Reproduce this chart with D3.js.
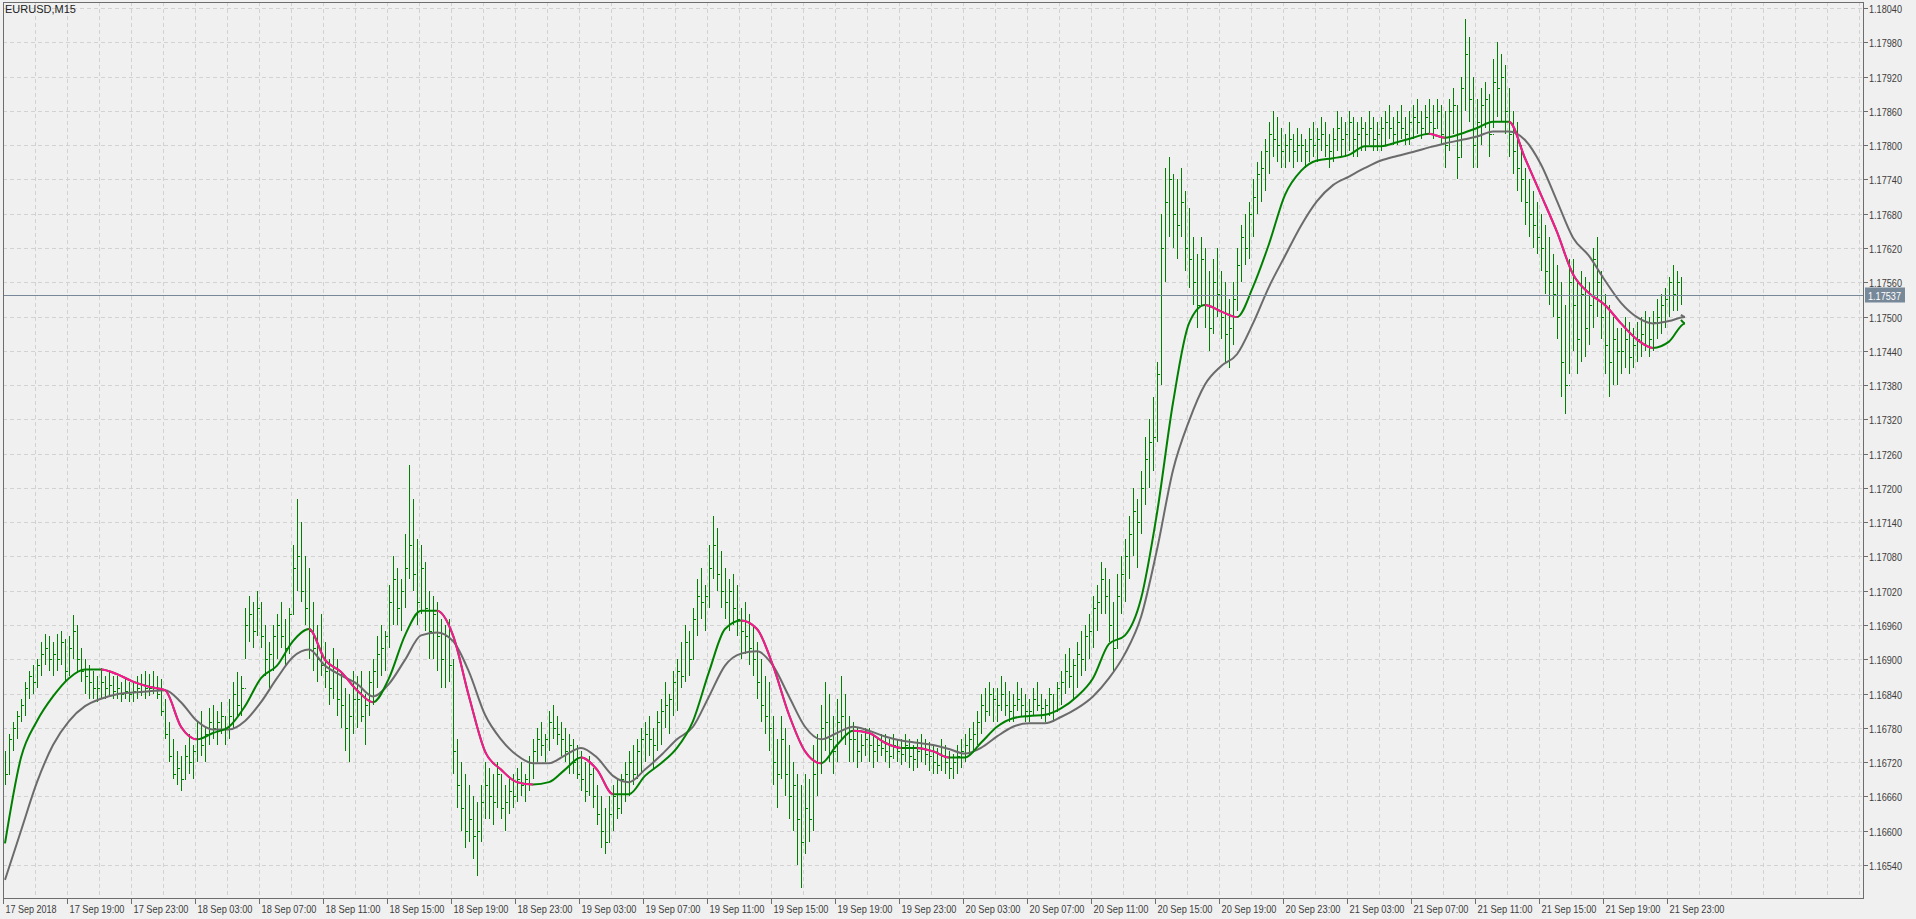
<!DOCTYPE html>
<html>
<head>
<meta charset="utf-8">
<script src="https://cdn.jsdelivr.net/npm/d3@7"></script>
<style>
  html, body { margin: 0; padding: 0; background: #f0f0f0; overflow: hidden; }
  svg text { font-family: "Liberation Sans", "DejaVu Sans", sans-serif; }
</style>
</head>
<body>
<svg id="chart" width="1916" height="919"></svg>
<script>
// EURUSD M15, 17 Sep 2018 15:00 .. 21 Sep 23:45, prices in points above 1.15000
const base_price = 1.15;
const start_time = Date.UTC(2018, 8, 17, 15, 0);
const last_price = 1.17537;

// [high, low, close] per 15 min bar, grouped one hour per line
const bars_hlc = [
  [1740,1680,1700],[1770,1700,1760],[1790,1740,1780],[1810,1760,1800],
  [1830,1790,1820],[1860,1800,1850],[1880,1830,1870],[1890,1840,1860],
  [1900,1850,1890],[1930,1870,1910],[1945,1890,1920],[1940,1880,1900],
  [1930,1870,1910],[1945,1880,1900],[1950,1890,1930],[1935,1860,1880],
  [1940,1870,1920],[1978,1900,1950],[1960,1880,1900],[1920,1860,1880],
  [1900,1840,1870],[1890,1830,1860],[1880,1830,1850],[1870,1825,1850],
  [1885,1830,1860],[1870,1830,1850],[1880,1835,1855],[1870,1830,1845],
  [1870,1830,1850],[1860,1825,1840],[1865,1830,1845],[1860,1825,1840],
  [1860,1825,1845],[1870,1830,1850],[1875,1835,1855],[1880,1830,1850],
  [1875,1835,1850],[1880,1840,1850],[1870,1830,1840],[1865,1800,1810],
  [1830,1760,1770],[1790,1720,1730],[1760,1690,1700],[1740,1680,1710],
  [1730,1670,1690],[1750,1690,1730],[1770,1700,1720],[1750,1690,1740],
  [1790,1720,1760],[1810,1730,1750],[1780,1720,1770],[1815,1750,1790],
  [1820,1760,1780],[1810,1750,1790],[1825,1770,1800],[1800,1750,1780],
  [1830,1760,1800],[1860,1780,1840],[1878,1800,1820],[1870,1800,1850],
  [1990,1900,1960],[2010,1930,1980],[2000,1920,1950],[2020,1940,1990],
  [2000,1920,1940],[1960,1870,1900],[1930,1850,1910],[1960,1880,1940],
  [1980,1900,1960],[2000,1920,1940],[1970,1890,1920],[1990,1910,1980],
  [2100,1980,2060],[2180,2020,2080],[2140,2000,2020],[2080,1960,1990],
  [2060,1900,1950],[2000,1880,1920],[1960,1860,1900],[1980,1870,1890],
  [1930,1850,1880],[1900,1820,1850],[1920,1830,1880],[1900,1800,1830],
  [1880,1780,1820],[1850,1740,1780],[1840,1720,1800],[1880,1770,1830],
  [1870,1780,1830],[1880,1790,1800],[1840,1750,1820],[1880,1800,1860],
  [1900,1820,1880],[1940,1850,1910],[1960,1870,1920],[1950,1880,1940],
  [2030,1920,2000],[2080,1960,2040],[2060,1960,1990],[2040,1950,2020],
  [2120,1990,2060],[2240,2040,2100],[2180,2020,2050],[2110,1960,2000],
  [2100,1980,2060],[2070,1950,1990],[2020,1900,1950],[2010,1900,1980],
  [2000,1880,1940],[1970,1850,1900],[1960,1850,1940],[1970,1860,1890],
  [1900,1700,1740],[1760,1640,1680],[1720,1600,1640],[1700,1570,1600],
  [1680,1580,1620],[1660,1550,1590],[1650,1520,1600],[1680,1580,1650],
  [1720,1620,1680],[1710,1620,1660],[1700,1610,1650],[1720,1640,1700],
  [1700,1620,1640],[1680,1600,1650],[1690,1630,1670],[1700,1640,1660],
  [1710,1650,1690],[1720,1660,1680],[1700,1650,1690],[1730,1670,1720],
  [1760,1690,1740],[1780,1720,1760],[1790,1730,1750],[1770,1720,1760],
  [1810,1740,1790],[1820,1760,1780],[1800,1750,1770],[1790,1730,1760],
  [1780,1720,1740],[1770,1700,1750],[1760,1700,1720],[1750,1690,1700],
  [1740,1670,1690],[1720,1650,1670],[1730,1660,1700],[1710,1640,1660],
  [1680,1610,1630],[1660,1570,1600],[1640,1560,1580],[1660,1580,1630],
  [1680,1600,1660],[1690,1620,1640],[1700,1630,1690],[1720,1650,1700],
  [1740,1660,1720],[1750,1680,1700],[1760,1690,1740],[1780,1700,1760],
  [1790,1720,1770],[1800,1730,1760],[1780,1710,1750],[1810,1740,1790],
  [1830,1750,1810],[1860,1780,1820],[1840,1770,1830],[1880,1800,1860],
  [1900,1810,1880],[1930,1850,1870],[1960,1860,1930],[1950,1870,1900],
  [1990,1900,1970],[2040,1940,2010],[2060,1970,2000],[2030,1950,2010],
  [2100,1990,2060],[2150,2040,2100],[2130,2020,2050],[2090,1990,2020],
  [2060,1970,2000],[2040,1950,2020],[2050,1960,1990],[2030,1940,1970],
  [1990,1900,1950],[2000,1910,1940],[1980,1890,1920],[1960,1870,1900],
  [1930,1830,1860],[1900,1790,1820],[1870,1770,1800],[1860,1740,1780],
  [1800,1680,1720],[1760,1640,1700],[1800,1690,1760],[1780,1660,1700],
  [1750,1620,1660],[1720,1600,1680],[1700,1540,1620],[1680,1500,1580],
  [1700,1560,1640],[1690,1580,1620],[1750,1600,1700],[1770,1660,1720],
  [1820,1700,1780],[1860,1740,1790],[1840,1720,1760],[1800,1700,1740],
  [1830,1720,1790],[1870,1760,1800],[1840,1750,1770],[1800,1720,1760],
  [1790,1720,1760],[1780,1710,1740],[1770,1720,1750],[1780,1730,1760],
  [1780,1720,1750],[1770,1710,1740],[1760,1720,1750],[1770,1730,1745],
  [1770,1720,1740],[1760,1710,1730],[1770,1725,1750],[1760,1720,1740],
  [1760,1715,1735],[1770,1720,1750],[1760,1710,1730],[1750,1705,1725],
  [1760,1710,1740],[1770,1720,1745],[1760,1715,1735],[1755,1705,1730],
  [1750,1700,1720],[1745,1700,1715],[1760,1705,1730],[1750,1700,1720],
  [1740,1690,1710],[1735,1690,1720],[1750,1700,1730],[1760,1710,1740],
  [1770,1720,1750],[1780,1730,1760],[1790,1740,1770],[1810,1750,1790],
  [1840,1770,1820],[1850,1790,1810],[1860,1800,1840],[1850,1790,1830],
  [1850,1790,1820],[1870,1810,1840],[1860,1800,1820],[1845,1790,1810],
  [1840,1790,1820],[1860,1810,1830],[1850,1800,1820],[1840,1790,1810],
  [1830,1790,1810],[1850,1800,1830],[1860,1810,1820],[1840,1795,1815],
  [1830,1790,1820],[1850,1800,1840],[1840,1790,1810],[1860,1810,1850],
  [1880,1820,1860],[1910,1840,1880],[1920,1850,1870],[1900,1830,1890],
  [1930,1850,1910],[1950,1870,1900],[1960,1880,1940],[1980,1900,1950],
  [2010,1920,1990],[2030,1950,2000],[2070,1980,2040],[2060,1980,2010],
  [2040,1930,1960],[2000,1880,1920],[2050,1920,2010],[2080,1980,2050],
  [2110,2000,2080],[2150,2040,2120],[2200,2080,2160],[2180,2060,2140],
  [2230,2120,2200],[2290,2170,2250],[2320,2200,2280],[2360,2230,2290],
  [2420,2280,2400],[2680,2380,2620],[2760,2560,2700],[2780,2640,2740],
  [2750,2620,2680],[2740,2600,2660],[2760,2640,2700],[2720,2580,2620],
  [2690,2550,2600],[2640,2520,2560],[2610,2480,2520],[2640,2520,2600],
  [2620,2480,2520],[2580,2440,2480],[2600,2470,2560],[2620,2500,2540],
  [2580,2460,2500],[2560,2420,2470],[2530,2410,2480],[2560,2450,2530],
  [2620,2510,2590],[2660,2560,2640],[2680,2590,2620],[2700,2600,2680],
  [2740,2640,2710],[2770,2680,2750],[2790,2700,2760],[2810,2720,2790],
  [2840,2750,2820],[2860,2780,2810],[2850,2770,2800],[2830,2760,2790],
  [2820,2760,2800],[2840,2770,2810],[2820,2760,2790],[2830,2770,2800],
  [2820,2770,2800],[2810,2760,2790],[2830,2770,2810],[2840,2780,2800],
  [2830,2770,2810],[2850,2790,2820],[2840,2780,2800],[2820,2760,2790],
  [2830,2770,2810],[2860,2790,2830],[2850,2780,2810],[2840,2780,2820],
  [2860,2790,2840],[2850,2780,2810],[2840,2780,2820],[2850,2790,2830],
  [2840,2790,2820],[2860,2800,2830],[2850,2790,2810],[2840,2790,2820],
  [2850,2790,2830],[2860,2800,2840],[2870,2810,2830],[2850,2800,2820],
  [2860,2800,2840],[2870,2810,2830],[2850,2800,2820],[2860,2800,2840],
  [2870,2810,2850],[2880,2820,2840],[2860,2810,2830],[2870,2820,2850],
  [2880,2820,2840],[2870,2810,2830],[2880,2830,2860],[2870,2800,2820],
  [2860,2760,2800],[2880,2790,2860],[2900,2820,2870],[2870,2740,2780],
  [2920,2780,2900],[3020,2860,2960],[2990,2840,2880],[2920,2760,2800],
  [2880,2760,2840],[2900,2800,2870],[2910,2830,2880],[2890,2780,2820],
  [2950,2830,2910],[2980,2850,2900],[2960,2840,2920],[2940,2820,2860],
  [2900,2780,2820],[2860,2750,2790],[2840,2720,2760],[2800,2700,2740],
  [2760,2660,2700],[2740,2640,2680],[2720,2620,2660],[2700,2610,2640],
  [2680,2580,2620],[2660,2540,2580],[2640,2520,2560],[2610,2500,2540],
  [2590,2460,2500],[2560,2360,2420],[2520,2330,2380],[2600,2400,2560],
  [2600,2440,2520],[2560,2400,2460],[2580,2420,2540],[2570,2430,2480],
  [2560,2450,2520],[2620,2480,2600],[2640,2500,2560],[2580,2460,2500],
  [2540,2400,2450],[2520,2360,2420],[2500,2380,2460],[2480,2380,2440],
  [2480,2400,2440],[2500,2410,2460],[2490,2400,2430],[2480,2410,2450],
  [2490,2420,2460],[2500,2430,2470],[2510,2440,2490],[2500,2430,2460],
  [2510,2440,2490],[2530,2460,2500],[2540,2470,2520],[2550,2480,2530],
  [2570,2500,2560],[2590,2510,2540],[2580,2510,2560],[2570,2520,2537]
];

// moving averages read at every full hour (last value = last bar)
const fast_ma = [
  1578,1728,1792,1835,1867,1882,1882,1874,1861,1852,1846,1782,1760,1771,1782,1818,
  1867,1889,1932,1953,1899,1878,1846,1825,1867,1942,1985,1985,1942,1835,1739,1707,
  1685,1681,1685,1707,1728,1707,1664,1664,1696,1718,1745,1792,1878,1953,1968,1953,
  1889,1803,1739,1718,1750,1775,1771,1754,1745,1745,1739,1728,1728,1754,1782,1797,
  1801,1803,1814,1835,1867,1927,1942,2006,2156,2349,2488,2520,2509,2499,2552,2627,
  2713,2755,2773,2777,2783,2798,2798,2805,2813,2820,2813,2820,2830,2841,2841,2777,
  2713,2648,2574,2541,2520,2488,2460,2445,2456,2488,2494
];
const slow_ma = [
  1514,1600,1685,1750,1792,1818,1831,1839,1842,1844,1846,1825,1792,1777,1777,1792,
  1825,1867,1904,1917,1889,1872,1857,1835,1857,1899,1942,1947,1932,1878,1803,1760,
  1732,1718,1718,1732,1745,1728,1696,1685,1707,1732,1760,1782,1835,1889,1910,1914,
  1889,1835,1782,1760,1771,1782,1775,1765,1758,1754,1750,1743,1735,1745,1765,1782,
  1788,1788,1799,1814,1835,1867,1910,1974,2092,2231,2317,2381,2413,2434,2488,2552,
  2606,2659,2702,2730,2745,2760,2773,2781,2788,2796,2803,2809,2815,2824,2824,2809,
  2766,2702,2638,2606,2563,2524,2499,2488,2492,2499,2503
];

const y_ticks = d3.range(0, 26).map(k => 1.16540 + k * 0.0006);

const W = 1916, H = 919;
const plot = { left: 3, right: 1863, top: 2, bottom: 898 };
const price = p => base_price + p / 100000;

const svg = d3.select("#chart");
const x = d3.scaleLinear().domain([0, 465]).range([plot.left + 2, plot.left + 2 + 465 * 4]);
const y = d3.scaleLinear().domain([1.16540, 1.18040]).range([865, 8]);

svg.append("rect").attr("width", W).attr("height", H).attr("fill", "#f0f0f0");
const defs = svg.append("defs");

// grid
const grid = svg.append("g").attr("stroke", "#d2d2d2").attr("stroke-dasharray", "4,3").attr("shape-rendering", "crispEdges");
y_ticks.forEach(t => {
  grid.append("line").attr("x1", plot.left).attr("x2", plot.right).attr("y1", Math.round(y(t)) + 0.5).attr("y2", Math.round(y(t)) + 0.5);
});
for (let i = 8; x(i) < plot.right; i += 8) {
  const gx = Math.round(x(i) - 2) + 0.5;
  grid.append("line").attr("x1", gx).attr("x2", gx).attr("y1", plot.top).attr("y2", plot.bottom);
}

// bars
const bars = svg.append("g").attr("stroke", "#008000").attr("stroke-width", 1).attr("shape-rendering", "crispEdges");
bars_hlc.forEach((b, i) => {
  const cx = Math.round(x(i)) + 0.5;
  const open = i === 0 ? b[2] : bars_hlc[i - 1][2];
  bars.append("line").attr("x1", cx).attr("x2", cx).attr("y1", Math.round(y(price(b[0])))).attr("y2", Math.round(y(price(b[1]))));
  bars.append("line").attr("x1", cx - 1).attr("x2", cx).attr("y1", Math.round(y(price(open))) + 0.5).attr("y2", Math.round(y(price(open))) + 0.5);
  bars.append("line").attr("x1", cx).attr("x2", cx + 2).attr("y1", Math.round(y(price(b[2]))) + 0.5).attr("y2", Math.round(y(price(b[2]))) + 0.5);
});

// moving averages
const last_bar = bars_hlc.length - 1;
const ma_x = (k, n) => (k === n - 1 ? last_bar : k * 4);
const line = d3.line().curve(d3.curveMonotoneX);

const slow_pts = slow_ma.map((v, k) => [x(ma_x(k, slow_ma.length)), y(price(v))]);
svg.append("path").attr("d", line(slow_pts))
  .attr("fill", "none").attr("stroke", "#6b6b6b").attr("stroke-width", 2);

// fast MA: green while rising, pink while falling
const fast_pts = fast_ma.map((v, k) => [x(ma_x(k, fast_ma.length)), y(price(v))]);
svg.append("path").attr("d", line(fast_pts))
  .attr("fill", "none").attr("stroke", "#008000").attr("stroke-width", 2);
for (let k = 0; k < fast_pts.length - 1; k++) {
  if (fast_ma[k + 1] >= fast_ma[k]) continue;
  const id = "seg" + k;
  defs.append("clipPath").attr("id", id).append("rect")
    .attr("x", fast_pts[k][0]).attr("y", 0)
    .attr("width", fast_pts[k + 1][0] - fast_pts[k][0]).attr("height", H);
  svg.append("path").attr("d", line(fast_pts)).attr("clip-path", `url(#${id})`)
    .attr("fill", "none").attr("stroke", "#ff1493").attr("stroke-width", 2);
}

// current price line
const py = Math.round(y(last_price)) + 0.5;
svg.append("line").attr("x1", plot.left).attr("x2", plot.right).attr("y1", py).attr("y2", py)
  .attr("stroke", "#778899").attr("stroke-width", 1);

// frame
svg.append("rect").attr("x", plot.left + 0.5).attr("y", plot.top + 0.5)
  .attr("width", plot.right - plot.left).attr("height", plot.bottom - plot.top)
  .attr("fill", "none").attr("stroke", "#6d6d6d").attr("shape-rendering", "crispEdges");

// y axis labels
const ya = svg.append("g");
y_ticks.forEach(t => {
  const ty = Math.round(y(t)) + 0.5;
  ya.append("line").attr("x1", plot.right).attr("x2", plot.right + 5).attr("y1", ty).attr("y2", ty).attr("stroke", "#6d6d6d");
  ya.append("text").attr("x", plot.right + 6).attr("y", ty + 4).attr("font-size", 11)
    .attr("textLength", 33).attr("lengthAdjust", "spacingAndGlyphs").attr("fill", "#3c3c3c").text(t.toFixed(5));
});
ya.append("rect").attr("x", plot.right + 2).attr("y", py - 8).attr("width", 40).attr("height", 15).attr("fill", "#778899");
ya.append("text").attr("x", plot.right + 5).attr("y", py + 4).attr("font-size", 11)
  .attr("textLength", 33).attr("lengthAdjust", "spacingAndGlyphs").attr("fill", "#ffffff").text(last_price.toFixed(5));

// x axis labels
const fmt = d3.utcFormat("%d %b %H:%M");
const xa = svg.append("g");
for (let k = 0; k * 16 <= last_bar; k++) {
  const tx = Math.round(x(k * 16) - 2) + 0.5;
  const label = k === 0 ? "17 Sep 2018" : fmt(new Date(start_time + k * 4 * 3600e3));
  xa.append("line").attr("x1", tx).attr("x2", tx).attr("y1", plot.bottom).attr("y2", plot.bottom + 6).attr("stroke", "#6d6d6d");
  xa.append("text").attr("x", tx + 2).attr("y", plot.bottom + 15).attr("font-size", 11)
    .attr("textLength", k === 0 ? 51 : 55).attr("lengthAdjust", "spacingAndGlyphs").attr("fill", "#3c3c3c").text(label);
}

svg.append("text").attr("x", 5).attr("y", 13).attr("font-size", 11).attr("fill", "#222").text("EURUSD,M15");
</script>
</body>
</html>
